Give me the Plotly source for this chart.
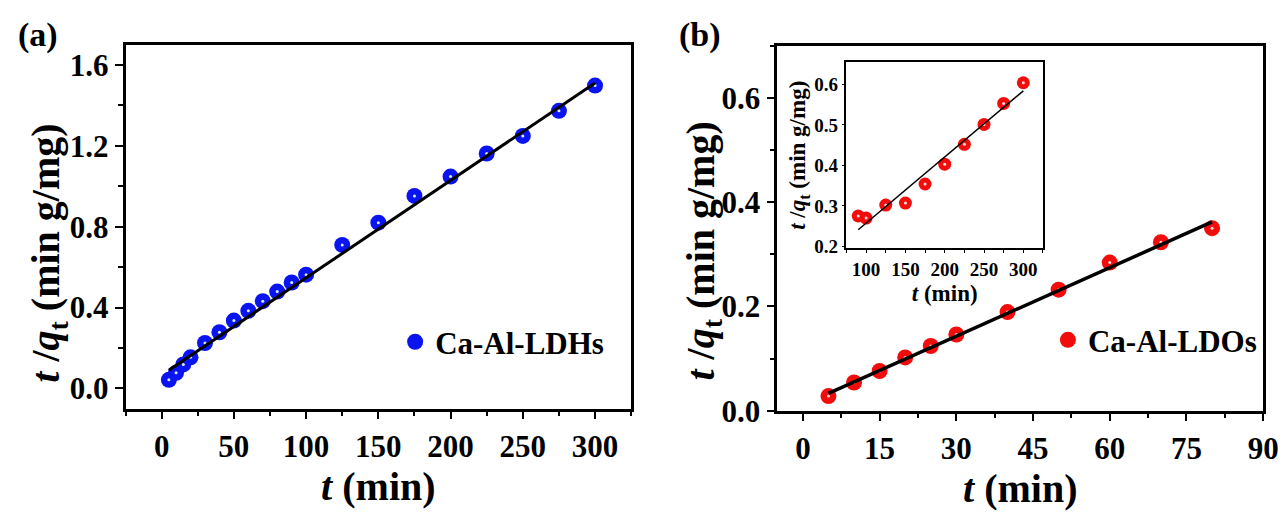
import plotly.graph_objects as go

# ---------------- data ----------------
# panel (a) Ca-Al-LDHs
t_a = [5, 10, 15, 20, 30, 40, 50, 60, 70, 80, 90, 100, 125, 150, 175, 200, 225, 250, 275, 300]
q_a = [0.043, 0.078, 0.119, 0.154, 0.225, 0.278, 0.336, 0.384, 0.432, 0.479, 0.524, 0.563,
       0.710, 0.820, 0.952, 1.048, 1.162, 1.249, 1.373, 1.498]
fit_a_t = [5, 300]
fit_a_q = [0.090, 1.510]

# panel (b) Ca-Al-LDOs
t_b = [5, 10, 15, 20, 25, 30, 40, 50, 60, 70, 80]
q_b = [0.028, 0.054, 0.076, 0.102, 0.124, 0.146, 0.189, 0.232, 0.284, 0.323, 0.350]
fit_b_t = [5, 80]
fit_b_q = [0.033, 0.362]

# inset of panel (b)
t_in = [90, 100, 125, 150, 175, 200, 225, 250, 275, 300]
q_in = [0.275, 0.270, 0.302, 0.307, 0.354, 0.403, 0.452, 0.501, 0.553, 0.604]
fit_in_t = [90, 300]
fit_in_q = [0.241, 0.584]

FONT = "Times New Roman, Liberation Serif, DejaVu Serif, serif"
W, H = 1288, 523

fig = go.Figure()

def sphere(x, y, xa, ya, base, hl, size, name, legend, show):
    fig.add_trace(go.Scatter(x=x, y=y, xaxis=xa, yaxis=ya, mode="markers", name=name,
                             legend=legend, showlegend=show,
                             marker=dict(size=size, color=base, line=dict(width=0))))
    fig.add_trace(go.Scatter(x=x, y=y, xaxis=xa, yaxis=ya, mode="markers", showlegend=False,
                             hoverinfo="skip",
                             marker=dict(size=3, color=hl, line=dict(width=0))))

def fitline(x, y, xa, ya, w):
    fig.add_trace(go.Scatter(x=x, y=y, xaxis=xa, yaxis=ya, mode="lines", showlegend=False,
                             line=dict(color="black", width=w)))

sphere(t_a, q_a, "x", "y", "#0a14f0", "#d8ecff", 16, "Ca-Al-LDHs", "legend", True)
fitline(fit_a_t, fit_a_q, "x", "y", 3)
sphere(t_b, q_b, "x2", "y2", "#f20d0d", "#ffdada", 16, "Ca-Al-LDOs", "legend2", True)
fitline(fit_b_t, fit_b_q, "x2", "y2", 3.5)
sphere(t_in, q_in, "x3", "y3", "#f20d0d", "#ffdada", 13, "inset", "legend", False)
fitline(fit_in_t, fit_in_q, "x3", "y3", 1.5)

def px(v):
    return v / W

def py(v):
    return 1 - v / H

def axis(domain, rng, dtick, minor, anchor, fmt=None, tsize=31, tlen=8, lw=2.5, mlen=5):
    d = dict(domain=domain, range=rng, dtick=dtick, tick0=0, anchor=anchor,
             showline=True, linecolor="black", linewidth=lw, mirror=True,
             ticks="outside", ticklen=tlen, tickwidth=2, tickcolor="black",
             showgrid=False, zeroline=False,
             tickfont=dict(family=FONT, size=tsize, color="black", weight="bold"),
             minor=dict(dtick=minor, ticks="outside", ticklen=mlen, tickwidth=2, tickcolor="black",
                        showgrid=False))
    if fmt:
        d["tickformat"] = fmt
    return d

ytitle = "<i>t</i> /<i>q</i><sub>t</sub> (min g/mg)"
xtitle = "<i>t</i> (min)"
TF = dict(family=FONT, size=40, color="black", weight="bold")

xa = axis([px(119), px(631)], [-25, 325], 50, 25, "y")
xa["title"] = dict(text=xtitle, font=TF, standoff=8)
ya = axis([py(415), py(38)], [-0.1, 1.7], 0.4, 0.2, "x", ".1f")

xb = axis([px(779), px(1271)], [-5, 90], 15, 7.5, "y2")
xb["title"] = dict(text=xtitle, font=TF, standoff=8)
yb = axis([py(417), py(39)], [0, 0.7], 0.2, 0.1, "x2", ".1f")

xi = axis([px(849), px(1048)], [75, 325], 50, 25, "y3", tsize=19, tlen=3, lw=1.5, mlen=3)
xi["tickwidth"] = 1
xi["minor"]["tickwidth"] = 1
xi["title"] = dict(text=xtitle, font=dict(family=FONT, size=23, color="black", weight="bold"), standoff=6)
yi = axis([py(249), py(56)], [0.195, 0.655], 0.1, None, "x3", ".1f", tsize=19, tlen=3, lw=1.5, mlen=3)
yi["tickwidth"] = 1
yi["minor"] = dict(ticks="")
yi["title"] = dict(text=ytitle, font=dict(family=FONT, size=23, color="black", weight="bold"), standoff=2)

legfont = dict(family=FONT, size=31, color="black", weight="bold")
fig.update_layout(
    width=W, height=H,
    margin=dict(l=0, r=0, t=0, b=0),
    paper_bgcolor="white", plot_bgcolor="white",
    font=dict(family=FONT, color="black"),
    xaxis=xa, yaxis=ya, xaxis2=xb, yaxis2=yb, xaxis3=xi, yaxis3=yi,
    legend=dict(x=px(392), y=py(346), xanchor="left", yanchor="middle", font=legfont,
                bgcolor="rgba(0,0,0,0)", itemsizing="trace"),
    legend2=dict(x=px(1053), y=py(344), xanchor="left", yanchor="middle", font=legfont,
                 bgcolor="rgba(0,0,0,0)", itemsizing="trace"),
    annotations=[
        dict(text="(a)", x=px(8), y=py(28), xref="paper", yref="paper", xanchor="left",
             yanchor="middle", showarrow=False,
             font=dict(family=FONT, size=34, color="black", weight="bold")),
        dict(text="(b)", x=px(677), y=py(28), xref="paper", yref="paper", xanchor="left",
             yanchor="middle", showarrow=False,
             font=dict(family=FONT, size=34, color="black", weight="bold")),
        dict(text=ytitle, x=px(41), y=py(254), xref="paper", yref="paper", xanchor="center",
             yanchor="middle", showarrow=False, textangle=-90, font=TF),
        dict(text=ytitle, x=px(704), y=py(252), xref="paper", yref="paper", xanchor="center",
             yanchor="middle", showarrow=False, textangle=-90, font=TF),
    ],
    showlegend=True,
)

fig.write_html("out.html")
